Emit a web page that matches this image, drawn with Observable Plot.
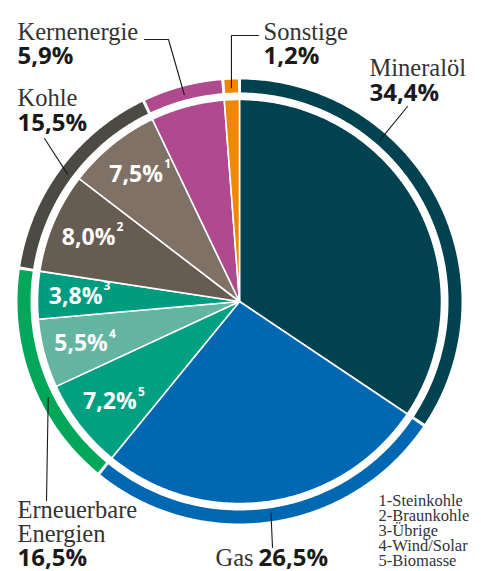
<!DOCTYPE html>
<html><head><meta charset="utf-8">
<script src="https://cdn.jsdelivr.net/npm/d3@7"></script>
<script src="https://cdn.jsdelivr.net/npm/@observablehq/plot@0.6"></script>
<style>
html,body{margin:0;padding:0;background:#fff;}
#chart{width:481px;height:571px;overflow:hidden;}
</style></head><body><div id="chart"></div>
<script>
// ---- data ----
const categories = ["Mineralöl","Gas","Biomasse","Wind/Solar","Übrige","Braunkohle","Steinkohle","Kernenergie","Sonstige"];
const shares     = [34.4, 26.5, 7.2, 5.5, 3.8, 8.0, 7.5, 5.9, 1.2];
const groupOf    = ["Mineralöl","Gas","Erneuerbare Energien","Erneuerbare Energien","Erneuerbare Energien","Kohle","Kohle","Kernenergie","Sonstige"];
const footnotes  = [null, null, 5, 4, 3, 2, 1, null, null];
const groupNames  = ["Mineralöl","Gas","Erneuerbare Energien","Kohle","Kernenergie","Sonstige"];
const groupShares = [34.4, 26.5, 16.5, 15.5, 5.9, 1.2];
const legendLabels = ["1-Steinkohle","2-Braunkohle","3-Übrige","4-Wind/Solar","5-Biomasse"];

// ---- styles ----
const sliceColors = ["#00424f","#0067b2","#00a081","#63b4a1","#009c80","#675c52","#807167","#b04a8f","#f18700"];
const ringColors  = ["#00424f","#0067b2","#00a759","#4c4b43","#b04a8f","#f18700"];

// ---- layout ----
const W = 481, H = 571;
const cx = 239, cy = 301;
const rPie = 202, rIn = 209, rOut = 222, rLabel = 164, rLeader = 214;
const gapPx = 3;
const serif = "Liberation Serif", sans = "Open Sans";
const labelLayout = [
  {x: 369, nameY: [75], valY: 100, leader: [[407,106]], at: 0.114},
  {x: 215, inline: true, valX: 258, nameY: [565], valY: 565, leader: [[272,547]]},
  {x: 17, nameY: [517, 541], valY: 565, leader: [[46,500]], at: 0.676},
  {x: 17, nameY: [105], valY: 130, leader: [[44,138]]},
  {x: 17, nameY: [39], valY: 63, leader: [[144,39],[168,39]]},
  {x: 263, nameY: [39], valY: 63, leader: [[258,35]], elbow: true}
];

const fmt = v => v.toFixed(1).replace(".", ",") + "%";
const total = d3.sum(shares);
const pt = (f, r) => { const a = f * 2 * Math.PI; return [cx + r * Math.sin(a), cy - r * Math.cos(a)]; };

// slices
let acc = 0;
const slices = categories.map((c, i) => {
  const s = {name: c, value: shares[i], start: acc / total, end: (acc + shares[i]) / total, color: sliceColors[i], note: footnotes[i]};
  acc += shares[i];
  return s;
});
const slicePts = slices.flatMap(s => {
  const n = Math.max(4, Math.ceil((s.end - s.start) * 720));
  const pts = [[cx, cy]];
  for (let k = 0; k <= n; k++) pts.push(pt(s.start + (s.end - s.start) * k / n, rPie));
  pts.push([cx, cy]);
  return pts.map(p => ({name: s.name, color: s.color, x: p[0], y: p[1]}));
});

// groups (ring)
acc = 0;
const groups = groupNames.map((g, i) => {
  const s = {name: g, value: groupShares[i], start: acc / total, end: (acc + groupShares[i]) / total, color: ringColors[i]};
  acc += groupShares[i];
  return s;
});
const gapF = (gapPx / 2) / (2 * Math.PI * (rIn + rOut) / 2);
const ringPts = groups.flatMap(s => {
  const a0 = s.start + gapF, a1 = s.end - gapF;
  const n = Math.max(4, Math.ceil((a1 - a0) * 720));
  const pts = [];
  for (let k = 0; k <= n; k++) pts.push(pt(a0 + (a1 - a0) * k / n, rOut));
  for (let k = n; k >= 0; k--) pts.push(pt(a0 + (a1 - a0) * k / n, rIn));
  pts.push(pts[0]);
  return pts.map(p => ({name: s.name, color: s.color, x: p[0], y: p[1]}));
});

// inner labels
const inner = slices.filter(s => s.note != null).map(s => {
  const p = pt((s.start + s.end) / 2, rLabel);
  return {label: fmt(s.value), note: String(s.note), x: p[0], y: p[1]};
});

// outer labels and leaders
const nameTexts = [], valTexts = [], leaderPts = [];
groups.forEach((g, i) => {
  const L = labelLayout[i];
  const words = g.name === "Erneuerbare Energien" ? ["Erneuerbare", "Energien"] : [g.name];
  words.forEach((w, j) => nameTexts.push({text: w, x: L.x, y: L.nameY[j]}));
  valTexts.push({text: fmt(g.value), x: L.inline ? L.valX : L.x, y: L.valY});
  const f = L.at != null ? L.at : (g.start + g.end) / 2;
  const end = pt(f, rLeader);
  let pts = L.leader.slice();
  if (L.elbow) pts.push([end[0], pts[0][1]]);
  pts.push(end);
  pts.forEach(p => leaderPts.push({name: g.name, x: p[0], y: p[1]}));
});

const chart = Plot.plot({
  width: W, height: H, margin: 0,
  x: {domain: [0, W], range: [0, W], axis: null},
  y: {domain: [0, H], range: [0, H], axis: null},
  color: {type: "identity"},
  style: {background: "#fff"},
  marks: [
    Plot.line(slicePts, {x: "x", y: "y", z: "name", fill: "color", stroke: "#fff", strokeWidth: 1.6, strokeLinejoin: "miter"}),
    Plot.line(ringPts, {x: "x", y: "y", z: "name", fill: "color", stroke: "none"}),
    Plot.line(leaderPts, {x: "x", y: "y", z: "name", stroke: "#1a1a1a", strokeWidth: 1.1}),
    Plot.text(inner, {x: "x", y: "y", text: "label", fill: "#fff", fontFamily: sans, fontWeight: 700, fontSize: 23, textAnchor: "middle"}),
    Plot.text(inner, {x: "x", y: "y", text: "note", fill: "#fff", fontFamily: sans, fontWeight: 700, fontSize: 12, textAnchor: "start", dx: 28, dy: -10}),
    Plot.text(nameTexts, {x: "x", y: "y", text: "text", fill: "#333", fontFamily: serif, fontSize: 24.5, textAnchor: "start", lineAnchor: "bottom"}),
    Plot.text(valTexts, {x: "x", y: "y", text: "text", fill: "#1a1a1a", fontFamily: sans, fontWeight: 700, fontSize: 24, textAnchor: "start", lineAnchor: "bottom"}),
    Plot.text(legendLabels, {x: () => 378, y: (d, i) => 505 + 15 * i, text: d => d, fill: "#333", fontFamily: serif, fontSize: 16.5, textAnchor: "start", lineAnchor: "bottom"})
  ]
});
document.getElementById("chart").appendChild(chart);
</script>
</body></html>
